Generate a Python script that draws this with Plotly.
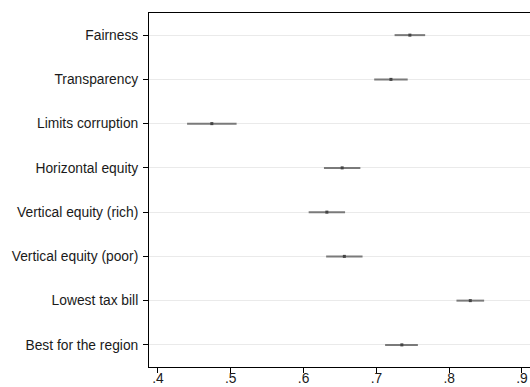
import plotly.graph_objects as go

categories = ["Fairness", "Transparency", "Limits corruption", "Horizontal equity",
              "Vertical equity (rich)", "Vertical equity (poor)", "Lowest tax bill",
              "Best for the region"]
estimates = [0.746, 0.720, 0.474, 0.653, 0.632, 0.656, 0.829, 0.735]
ci_low = [0.725, 0.697, 0.440, 0.628, 0.607, 0.631, 0.810, 0.712]
ci_high = [0.767, 0.743, 0.508, 0.678, 0.657, 0.681, 0.848, 0.757]
x_ticks = [0.4, 0.5, 0.6, 0.7, 0.8, 0.9]
x_tick_labels = [".4", ".5", ".6", ".7", ".8", ".9"]

err_plus = [h - e for h, e in zip(ci_high, estimates)]
err_minus = [e - l for e, l in zip(estimates, ci_low)]

fig = go.Figure()
fig.add_trace(go.Scatter(
    x=estimates, y=categories, mode="markers",
    marker=dict(symbol="square", size=3, color="#444444"),
    error_x=dict(type="data", symmetric=False, array=err_plus, arrayminus=err_minus,
                 width=0, thickness=2, color="#7a7a7a"),
    showlegend=False,
))

fig.update_layout(
    width=530, height=387,
    margin=dict(l=149, r=0, t=13, b=20),
    paper_bgcolor="white", plot_bgcolor="white",
    font=dict(family="Liberation Sans, Arial, sans-serif", size=13.8, color="#1a1a1a"),
)
fig.update_xaxes(
    range=[0.3877, 0.911], tickvals=x_ticks, ticktext=x_tick_labels,
    showgrid=False, zeroline=False, automargin=False,
    showline=True, linecolor="black", linewidth=1, mirror=True,
    ticks="outside", ticklen=5, tickcolor="black", tickwidth=1,
    tickfont=dict(size=13.8, color="#1a1a1a"),
    ticklabelstandoff=-7,
)
fig.update_yaxes(
    type="category", categoryorder="array", categoryarray=categories,
    range=[7.5, -0.5], automargin=False,
    showgrid=True, gridcolor="#eaeaea", gridwidth=1,
    showline=True, linecolor="black", linewidth=1, mirror=False,
    ticks="outside", ticklen=5, tickcolor="black", tickwidth=1,
    ticklabelstandoff=2,
)
fig.write_html("out.html")
